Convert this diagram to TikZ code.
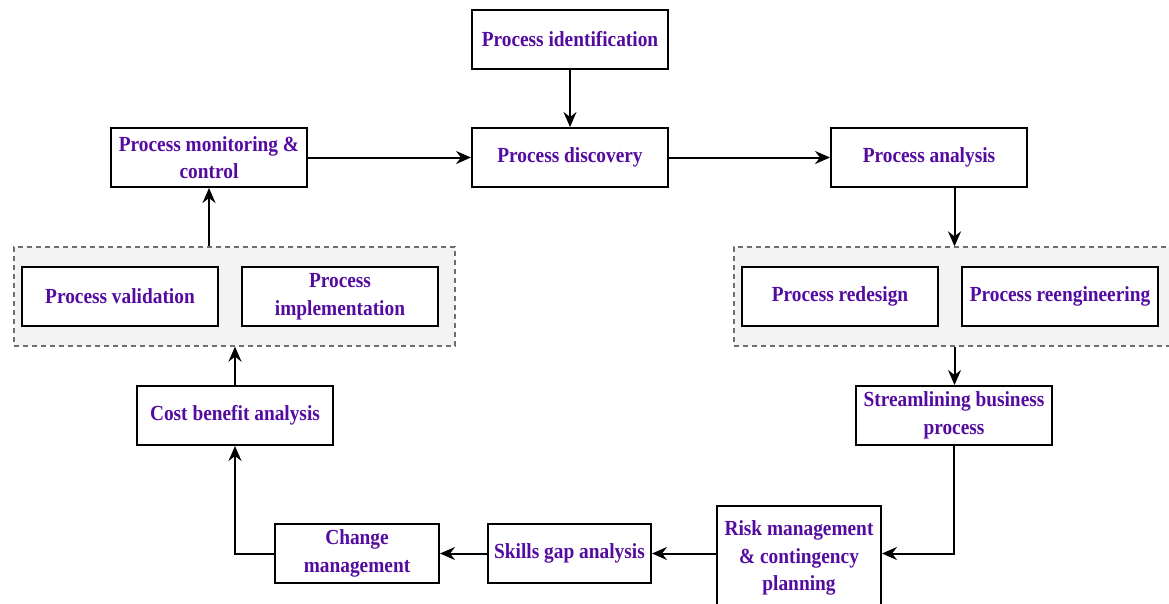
\documentclass[tikz,border=0pt]{standalone}
\usepackage{fontspec}
\setmainfont{Liberation Serif}[FakeStretch=0.9]
\usetikzlibrary{arrows.meta}
\definecolor{txt}{RGB}{84,12,160}
\definecolor{grp}{RGB}{243,243,243}
\definecolor{grpline}{RGB}{110,110,110}
\begin{document}
\begin{tikzpicture}[x=1pt,y=-1pt,
  lbl/.style={text=txt,align=center,font=\fontsize{21.5}{27.5}\selectfont\bfseries},
  box/.style={lbl,draw=black,line width=2pt,fill=white,minimum width=196pt,minimum height=59pt,
    inner sep=0pt},
  grpbox/.style={draw=grpline,dash pattern=on 5pt off 4pt,line width=1.3pt,fill=grp,inner sep=0pt},
  arr/.style={line width=2pt,-{Stealth[length=15pt,width=13pt,inset=5pt]}}]
\useasboundingbox (0,0) rectangle (1169,603);
\clip (0,0) rectangle (1169,603);
% groups
\node[grpbox,minimum width=441pt,minimum height=99pt] (gl) at (234.5,296.5) {};
\node[grpbox,minimum width=441pt,minimum height=99pt] (gr) at (954.5,296.5) {};
% boxes
\node[box] (ident) at (570,39.5) {Process identification};
\node[box] (disc) at (570,157.5) {Process discovery};
\node[box] (mon) at (209,157.5) {Process monitoring \&\\control};
\node[box] (anal) at (929,157.5) {Process analysis};
\node[box] (val) at (120,296.5) {Process validation};
\node[box] (impl) at (340,296.5) {Process\\implementation};
\node[box] (redes) at (840,296.5) {Process redesign};
\node[box] (reeng) at (1060,296.5) {Process reengineering};
\node[box] (stream) at (954,415.5) {Streamlining business\\process};
\node[box] (cost) at (235,415.5) {Cost benefit analysis};
\node[box,minimum width=164pt,minimum height=110pt,anchor=north] (risk) at (799,505) {};
\node[lbl] (risklbl) at (799,558) {Risk management\\\& contingency\\planning};
\node[box,minimum width=163pt] (skill) at (569.5,553.5) {Skills gap analysis};
\node[box,minimum width=164pt] (chg) at (357,553.5) {Change\\management};
% connectors
\draw[arr] (ident.south) -- (disc.north);
\draw[arr] (mon.east) -- (disc.west);
\draw[arr] (disc.east) -- (anal.west);
\draw[arr] (anal.south -| gr.north) -- (gr.north);
\draw[arr] (gr.south) -- (stream.north -| gr.south);
\coordinate (c1) at (954,553.5);
\draw[arr] (stream.south -| c1) -- (c1) -- (risk.east |- c1);
\draw[arr] (risk.west |- skill.east) -- (skill.east);
\draw[arr] (skill.west) -- (chg.east);
\coordinate (c2) at (235,553.5);
\draw[arr] (chg.west) -- (c2) -- (cost.south);
\draw[arr] (cost.north) -- (gl.south -| cost.north);
\draw[arr] (gl.north -| mon.south) -- (mon.south);
\end{tikzpicture}
\end{document}
